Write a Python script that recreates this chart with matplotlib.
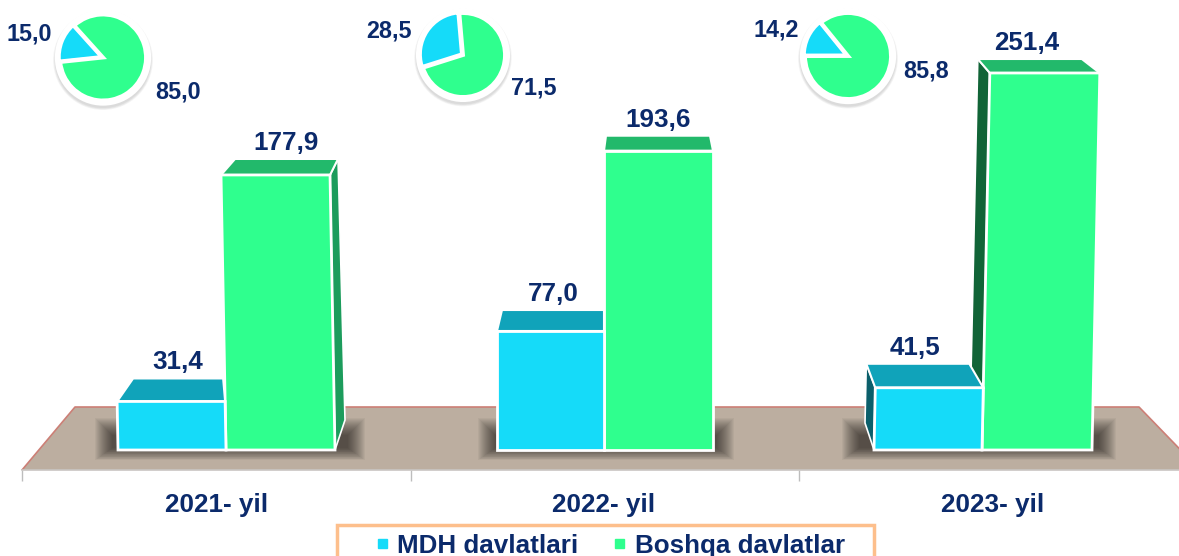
import matplotlib
matplotlib.use('Agg')
import matplotlib.pyplot as plt
from matplotlib.patches import Circle, Patch, Rectangle

years = ['2021- yil', '2022- yil', '2023- yil']
series = ['MDH davlatlari', 'Boshqa davlatlar']
mdh = [31.4, 77.0, 41.5]
boshqa = [177.9, 193.6, 251.4]
pie_mdh = [15.0, 28.5, 14.2]
pie_boshqa = [85.0, 71.5, 85.8]

W, H = 1179, 556
NAVY = '#0B2A6B'
BLUE, GREEN = '#15DBF9', '#2FFF8E'
BLUE_TOP, GREEN_TOP = '#10A3BA', '#22B96B'
FLOOR = '#BCAEA0'

# layout of the fake 3d bars, in pixels
base_px = 450
axis_px = 470
scale = 1.546
left = [118, 497, 874]
mid = [226, 604, 982]
right = [335, 713, 1092]
persp = [1, 1, 0.97]
lean = [-0.028, 0, 0.032]
blue_depth = [(16, -2, -23), (5, 0, -21), (-9, -14, -24)]
green_depth = [(14, 8, -16), (2, -3, -15), (-12, -18, -14)]
label_dx = [0, 0, -3]

plt.rcParams['font.family'] = ['Liberation Sans', 'DejaVu Sans']
plt.rcParams['font.weight'] = 'bold'

fig = plt.figure(figsize=(W / 100, H / 100), dpi=100)
ax = fig.add_axes([0, 1 - axis_px / H, 1, axis_px / H])
ax.set_xlim(0, W)
ax.set_ylim((base_px - axis_px) / scale, base_px / scale)


def py(px):
    return (base_px - px) / scale


def comma(v):
    return f'{v:.1f}'.replace('.', ',')


# floor
ax.fill([22, 75, 1139, 1200], [py(470), py(407), py(407), py(470)], color=FLOOR, lw=0, zorder=1, clip_on=False)
ax.plot([22, 75, 1139, 1200], [py(470), py(407), py(407), py(470)], color='#CC7F76', lw=1.2, zorder=1.1)

# soft shadows under the bars
for x0, x1 in [(95, 365), (478, 734), (842, 1116)]:
    for k in range(18):
        top, bottom = 418 + k, 460 - k * 0.7
        ax.add_patch(Rectangle((x0 + k, py(bottom)), x1 - x0 - 2 * k, (bottom - top) / scale,
                               color='black', alpha=0.038, lw=0, zorder=1.2))


def box(x0, x1, h, i, depth, front, top, z):
    dl, dr, dy = depth
    xt0, xt1 = x0 + lean[i] * h, x1 + lean[i] * h
    ax.fill([xt0, xt1, xt1 + dr, xt0 + dl], [h, h, h - dy / scale, h - dy / scale],
            color=top, ec='white', lw=1.5, zorder=z)
    ax.fill([x0, x1, xt1, xt0], [0, 0, h, h], color=front, ec='white', lw=2, zorder=z + 0.2)
    ax.text((xt0 + xt1 + dl + dr) / 2 + label_dx[i], h + (16 - dy) / scale, comma(h / persp[i]), color=NAVY,
            fontsize=18.7, ha='center', va='center', zorder=6)


for i in range(3):
    hb = mdh[i] * persp[i]
    hg = boshqa[i] * persp[i]
    if i == 0:
        # right wall of the green bar
        xt = right[i] + lean[i] * hg
        ax.fill([right[i], xt, xt + green_depth[i][1], right[i] + 10], [0, hg, hg + 16 / scale, 30 / scale],
                color='#1C9C5C', ec='white', lw=1.2, zorder=2)
    if i == 2:
        # left walls, this group is seen from the other side
        xt = mid[i] + lean[i] * hg
        ax.fill([mid[i], xt, xt - 12, mid[i] - 12], [0, hg, hg + 14 / scale, 30 / scale],
                color='#116437', ec='white', lw=1.2, zorder=2)
        xt = left[i] + lean[i] * hb
        ax.fill([left[i], xt, xt - 9, left[i] - 9], [0, hb, hb + 24 / scale, 27 / scale],
                color='#0B5F6B', ec='white', lw=1.2, zorder=3)
    box(mid[i], right[i], hg, i, green_depth[i], GREEN, GREEN_TOP, 2.5)
    box(left[i], mid[i], hb, i, blue_depth[i], BLUE, BLUE_TOP, 3.5)

# axis with category labels between the ticks
ax.patch.set_visible(False)
for s in ['top', 'left', 'right']:
    ax.spines[s].set_visible(False)
ax.spines['bottom'].set_color('#C9C5C2')
ax.spines['bottom'].set_linewidth(1.2)
ax.spines['bottom'].set_bounds(22, W)
ax.set_yticks([])
ax.set_xticks([22, 411, 799])
ax.set_xticklabels([])
ax.tick_params(axis='x', which='major', length=8, width=1, color='#BDBDBD')
ax.set_xticks([217, 604, 993], minor=True)
ax.set_xticklabels(years, minor=True, fontsize=18.8, color=NAVY, fontweight='bold')
ax.tick_params(axis='x', which='minor', length=0, pad=16.5)

# small pies
pie_centers = [(103, 57.5, 43), (463, 55, 42), (848, 56, 43)]
pie_start = [132, 95, 129]
pie_label_pos = [((29, 34), (178, 92)), ((389, 31), (534, 88)), ((776, 30), (926, 71))]
for i, (cx, cy, r) in enumerate(pie_centers):
    half = r * 1.3
    pax = fig.add_axes([(cx - half) / W, 1 - (cy + half) / H, 2 * half / W, 2 * half / H])
    pax.set_xlim(-1.3, 1.3)
    pax.set_ylim(-1.3, 1.3)
    for k in range(4):
        pax.add_patch(Circle((0, -0.06), 1.16 - k * 0.015, color='#777777', alpha=0.07, lw=0))
    pax.add_patch(Circle((0, 0), 1.12, color='white', lw=0))
    pax.pie([pie_mdh[i], pie_boshqa[i]], colors=[BLUE, GREEN], startangle=pie_start[i], radius=1,
            explode=[0.03, 0], wedgeprops={'edgecolor': 'white', 'linewidth': 2.8})
    pax.set_xlim(-1.3, 1.3)
    pax.set_ylim(-1.3, 1.3)
    pax.axis('off')
    for v, (tx, ty) in zip([pie_mdh[i], pie_boshqa[i]], pie_label_pos[i]):
        fig.text(tx / W, 1 - ty / H, comma(v), color=NAVY, fontsize=16.8, ha='center', va='center')

# legend, its box runs off the bottom of the image
fig.add_artist(Rectangle((337 / W, 1 - 570 / H), (874 - 337) / W, 45 / H, transform=fig.transFigure,
                         fc='white', ec='#FDBF8C', lw=2.5))
handles = [Patch(color=BLUE), Patch(color=GREEN)]
leg = fig.legend(handles, series, loc='center left', bbox_to_anchor=(378 / W, 1 - 546 / H), ncol=2, frameon=False,
                 fontsize=18.7, labelcolor=NAVY, handlelength=0.33, handleheight=0.13, handletextpad=0.42,
                 columnspacing=1.4, borderpad=0, borderaxespad=0)

fig.savefig('out.png', dpi=100)
